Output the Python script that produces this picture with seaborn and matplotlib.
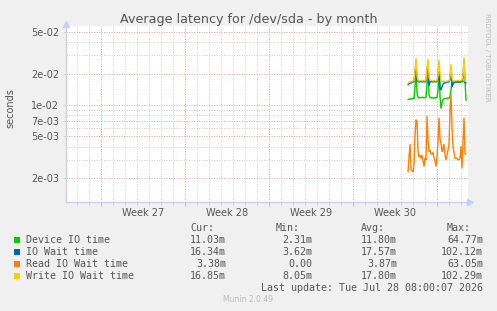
import numpy as np
import pandas as pd
import matplotlib
matplotlib.use("Agg")
import matplotlib.pyplot as plt
import seaborn as sns
from matplotlib.patches import Rectangle
from matplotlib.ticker import FixedLocator, NullFormatter

# --- data (latency in ms, one sample per 2 hours) ---
series_names = ["Device IO time", "IO Wait time", "Read IO Wait time", "Write IO Wait time"]
series_colors = ["#00CC00", "#0066B3", "#FF8000", "#FFCC00"]

device_ms = [11.3, 11.4, 11.5, 11.4, 11.5, 11.6, 11.5, 15.0, 22.0, 13.0,
             11.8, 11.7, 11.8, 11.7, 11.9, 11.8, 11.7, 11.8, 11.9, 16.0,
             22.0, 12.5, 11.8, 11.7, 11.8, 11.7, 11.6, 11.8, 11.7, 11.9,
             14.0, 21.5, 12.0, 9.3, 10.5, 11.3, 11.5, 11.6, 11.5, 11.6,
             11.7, 11.6, 12.0, 14.0, 16.6, 16.5, 16.6, 16.5, 16.6, 16.7,
             16.6, 16.5, 16.6, 16.7, 16.6, 16.8, 17.0, 16.8, 11.03]
iowait_ms = [15.6, 16.0, 16.3, 16.2, 16.5, 16.6, 16.8, 20.0, 26.5, 17.5,
             16.8, 16.6, 16.7, 16.8, 16.6, 16.7, 16.9, 16.6, 16.9, 21.0,
             26.0, 15.5, 16.6, 16.8, 16.7, 16.6, 16.8, 16.7, 16.6, 16.9,
             18.0, 25.5, 14.5, 14.0, 15.0, 15.8, 16.3, 16.4, 16.3, 16.5,
             16.7, 16.6, 17.5, 23.0, 15.0, 15.8, 16.4, 16.6, 16.5, 16.8,
             16.7, 16.9, 16.6, 16.8, 17.0, 18.0, 27.0, 16.34, 16.34]
read_ms = [2.3, 3.2, 4.2, 2.4, 2.35, 2.3, 2.7, 5.2, 7.2, 7.0,
           3.6, 3.2, 3.3, 3.1, 3.3, 2.9, 2.6, 3.1, 3.0, 7.8,
           4.5, 3.6, 3.7, 3.4, 3.4, 3.5, 3.1, 2.9, 2.6, 3.3,
           4.5, 7.5, 4.7, 4.3, 3.6, 3.8, 4.2, 3.3, 3.0, 3.3,
           3.75, 4.2, 9.0, 12.5, 6.0, 4.0, 3.5, 3.1, 3.1, 3.1,
           3.0, 3.0, 3.1, 4.0, 2.5, 4.5, 7.5, 3.4, 3.38]
write_ms = [16.2, 16.5, 16.8, 16.6, 16.9, 17.0, 17.2, 21.0, 28.0, 19.0,
            17.3, 17.0, 17.1, 17.2, 17.0, 17.1, 17.3, 17.0, 17.4, 22.0,
            27.5, 18.5, 17.4, 17.2, 17.1, 17.0, 17.2, 17.1, 17.0, 17.3,
            19.0, 27.0, 20.0, 17.0, 16.8, 17.0, 16.9, 16.8, 16.7, 16.9,
            17.1, 17.0, 18.5, 24.5, 18.0, 17.2, 17.0, 17.1, 17.0, 17.2,
            17.1, 17.3, 17.0, 17.2, 17.4, 19.0, 28.5, 16.85, 16.85]

# legend table
cur_vals = ["11.03m", "16.34m", "3.38m", "16.85m"]
min_vals = ["2.31m", "3.62m", "0.00", "8.05m"]
avg_vals = ["11.80m", "17.57m", "3.87m", "17.80m"]
max_vals = ["64.77m", "102.12m", "63.05m", "102.29m"]
week_labels = ["Week 27", "Week 28", "Week 29", "Week 30"]
ytick_vals = [5e-2, 2e-2, 1e-2, 7e-3, 5e-3, 2e-3]
ytick_labels = ["5e-02", "2e-02", "1e-02", "7e-03", "5e-03", "2e-03"]

# time axis: days since Monday of week 27
week27_start = pd.Timestamp("2026-06-29")
times = pd.date_range("2026-07-24 14:00", periods=len(device_ms), freq="2h")
days = (times - week27_start) / pd.Timedelta("1D")

frames = []
for name, vals in zip(series_names, [device_ms, iowait_ms, read_ms, write_ms]):
    frames.append(pd.DataFrame({"day": days, "seconds": np.array(vals) / 1000.0, "series": name}))
df = pd.concat(frames, ignore_index=True)

# --- figure ---
W, H = 497, 311
BG = "#F0F0F0"
TXT = "#555555"
sns.set_style("white")
plt.rcParams["font.family"] = ["DejaVu Sans"]

fig = plt.figure(figsize=(W / 100, H / 100), dpi=100, facecolor=BG)
ax = fig.add_axes([66 / W, 1 - 202 / H, (468 - 66) / W, (202 - 26) / H])
ax.set_facecolor("white")

# grids
GRID_MINOR = "#D0D0D0"
GRID_MAJOR = "#E6A3A3"
for d in np.arange(-2, 31):
    if d % 7 != 0:
        ax.axvline(d, color=GRID_MINOR, lw=0.6, ls=(0, (1.5, 1.5)), zorder=0)
for d in range(0, 35, 7):
    ax.axvline(d, color=GRID_MAJOR, lw=0.6, ls=(0, (1.5, 1.5)), zorder=0)
minor_y = [m * 10.0 ** e for e in (-3, -2) for m in range(1, 10)] + [1e-1]
for v in minor_y:
    if not any(np.isclose(v, t) for t in ytick_vals):
        ax.axhline(v, color=GRID_MINOR, lw=0.6, ls=(0, (1.5, 1.5)), zorder=0)
for v in ytick_vals:
    ax.axhline(v, color=GRID_MAJOR, lw=0.6, ls=(0, (1.5, 1.5)), zorder=0)

sns.lineplot(data=df, x="day", y="seconds", hue="series", hue_order=series_names,
             palette=series_colors, linewidth=1.0, legend=False, ax=ax, zorder=3)

ax.set_yscale("log")
ax.set_xlim(-2.92, 30.58)
ax.set_ylim(1.18e-3, 5.71e-2)

ax.yaxis.set_major_locator(FixedLocator(ytick_vals))
ax.set_yticklabels(ytick_labels)
ax.yaxis.set_minor_locator(FixedLocator([]))
ax.yaxis.set_minor_formatter(NullFormatter())
ax.tick_params(axis="y", which="major", length=2, width=0.6, color="#CCCCCC",
               labelsize=7, labelcolor=TXT, pad=3, direction="out", left=True)

ax.xaxis.set_major_locator(FixedLocator([0, 7, 14, 21, 28]))
ax.xaxis.set_minor_locator(FixedLocator([d for d in range(-2, 31) if d % 7 != 0]))
ax.set_xticklabels([])
ax.tick_params(axis="x", which="major", length=3, width=0.6, color=GRID_MAJOR,
               direction="out", bottom=True)
ax.tick_params(axis="x", which="minor", length=2, width=0.6, color="#CCCCCC",
               direction="out", bottom=True)
for i, lab in enumerate(week_labels):
    ax.text(3.5 + 7 * i, -0.061, lab, transform=ax.get_xaxis_transform(),
            ha="center", va="center", fontsize=7, color=TXT)

ax.set_xlabel("")
ax.set_ylabel("seconds", fontsize=7, color=TXT)
ax.yaxis.set_label_coords(-0.125, 0.534)

for s in ["top", "right"]:
    ax.spines[s].set_visible(False)
for s in ["left", "bottom"]:
    ax.spines[s].set_color("#C8CFF5")
    ax.spines[s].set_linewidth(1.0)
ax.plot([1.005], [0], marker=">", ms=4, color="#C8CFF5", transform=ax.transAxes, clip_on=False)
ax.plot([0], [1.01], marker="^", ms=4, color="#C8CFF5", transform=ax.transAxes, clip_on=False)

# title and side text
fig.text(0.5, 1 - 19 / H, "Average latency for /dev/sda - by month", ha="center", va="center",
         fontsize=9.2, color=TXT)
fig.text(487 / W, 1 - 57 / H, "RRDTOOL / TOBI OETIKER", rotation=270, ha="center", va="center",
         fontsize=5, color="#BBBBBB")

# legend table
mono = "DejaVu Sans Mono"
fs = 7.2


def fy(y):
    return 1 - y / H


for x, head in zip([190, 276, 361, 447], ["Cur:", "Min:", "Avg:", "Max:"]):
    fig.text(x / W, fy(228), head, ha="left", va="center", fontsize=fs, family=mono, color=TXT)

for i, name in enumerate(series_names):
    y = 240 + 11.9 * i
    fig.add_artist(Rectangle((14 / W, fy(y + 3)), 6 / W, 6 / H, transform=fig.transFigure,
                             facecolor=series_colors[i], edgecolor="none"))
    fig.text(26 / W, fy(y), name, ha="left", va="center", fontsize=fs, family=mono, color=TXT)
    for x, col in zip([226, 312, 397, 483], [cur_vals, min_vals, avg_vals, max_vals]):
        fig.text(x / W, fy(y), col[i], ha="right", va="center", fontsize=fs, family=mono, color=TXT)

fig.text(483 / W, fy(288), "Last update: Tue Jul 28 08:00:07 2026", ha="right", va="center",
         fontsize=fs, family=mono, color=TXT)
fig.text(248 / W, fy(300), "Munin 2.0.49", ha="center", va="center", fontsize=5.5, color="#BBBBBB")

fig.savefig("out.png", dpi=100, facecolor=BG)
